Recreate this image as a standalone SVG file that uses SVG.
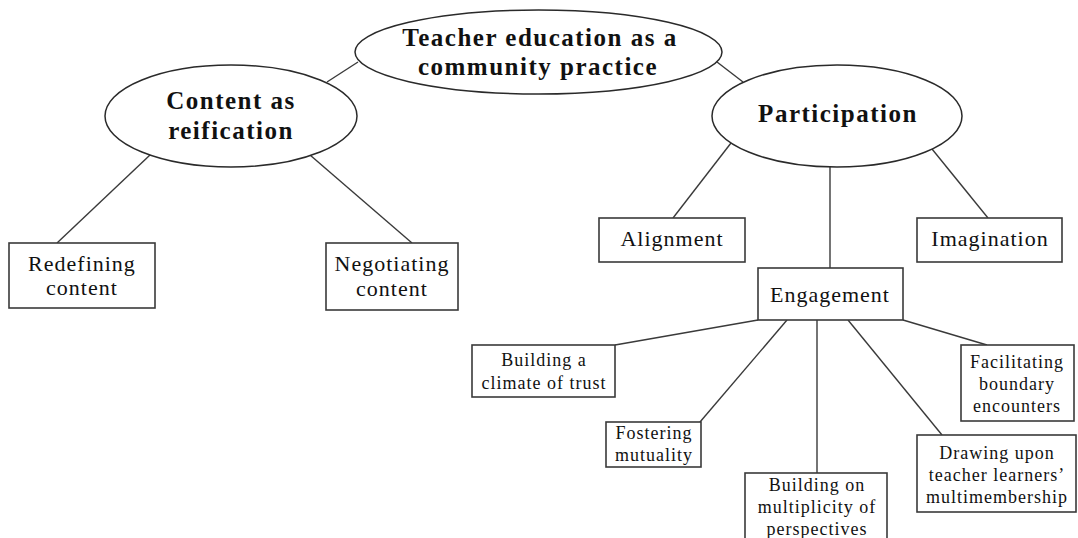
<svg xmlns="http://www.w3.org/2000/svg" width="1078" height="538" viewBox="0 0 1078 538">
<style>
.bg{fill:#ffffff}
.el{fill:#ffffff;stroke:#2a2a2a;stroke-width:1.5}
.bx{fill:#ffffff;stroke:#3a3a3a;stroke-width:1.6}
.ln{stroke:#3a3a3a;stroke-width:1.4;fill:none}
.h{font-family:"Liberation Serif",serif;font-weight:bold;font-size:25px;letter-spacing:1.5px;fill:#111;text-anchor:middle}
.m{font-family:"Liberation Serif",serif;font-size:22px;letter-spacing:1px;fill:#111;text-anchor:middle}
.s{font-family:"Liberation Serif",serif;font-size:18px;letter-spacing:1px;fill:#111;text-anchor:middle}
</style>
<rect class="bg" x="0" y="0" width="1078" height="538"/>
<g id="connectors">
<line class="ln" x1="358" y1="62" x2="327" y2="82"/>
<line class="ln" x1="717" y1="62" x2="743" y2="82"/>
<line class="ln" x1="150" y1="155" x2="57" y2="243"/>
<line class="ln" x1="310" y1="155" x2="412" y2="243"/>
<line class="ln" x1="731" y1="143" x2="673" y2="218"/>
<line class="ln" x1="932" y1="149" x2="988" y2="218"/>
<line class="ln" x1="830" y1="167" x2="830" y2="268"/>
<line class="ln" x1="758" y1="320" x2="615" y2="345"/>
<line class="ln" x1="787" y1="320" x2="700" y2="422"/>
<line class="ln" x1="817" y1="320" x2="817" y2="473"/>
<line class="ln" x1="848" y1="320" x2="942" y2="435"/>
<line class="ln" x1="903" y1="320" x2="987" y2="345"/>
</g>
<g id="root">
<ellipse class="el" cx="538.5" cy="52" rx="183.5" ry="42"/>
<text class="h" x="540" y="46">Teacher education as a</text>
<text class="h" x="538" y="75">community practice</text>
</g>
<g id="content">
<ellipse class="el" cx="231" cy="116" rx="126" ry="51"/>
<text class="h" x="231" y="109">Content as</text>
<text class="h" x="231" y="139">reification</text>
</g>
<g id="participation">
<ellipse class="el" cx="837" cy="116" rx="125" ry="51"/>
<text class="h" x="838" y="122">Participation</text>
</g>
<g id="redefining">
<rect class="bx" x="9" y="243" width="146" height="65"/>
<text class="m" x="82" y="271">Redefining</text>
<text class="m" x="82" y="295">content</text>
</g>
<g id="negotiating">
<rect class="bx" x="326" y="243" width="132" height="67"/>
<text class="m" x="392" y="271">Negotiating</text>
<text class="m" x="392" y="296">content</text>
</g>
<g id="alignment">
<rect class="bx" x="599" y="218" width="146" height="44"/>
<text class="m" x="672" y="246">Alignment</text>
</g>
<g id="imagination">
<rect class="bx" x="917" y="218" width="145" height="44"/>
<text class="m" x="990" y="246">Imagination</text>
</g>
<g id="engagement">
<rect class="bx" x="758" y="268" width="145" height="52"/>
<text class="m" x="830" y="302">Engagement</text>
</g>
<g id="climate">
<rect class="bx" x="472" y="345" width="143" height="52"/>
<text class="s" x="544" y="366">Building a</text>
<text class="s" x="544" y="389">climate of trust</text>
</g>
<g id="fostering">
<rect class="bx" x="606" y="422" width="95" height="45"/>
<text class="s" x="654" y="439">Fostering</text>
<text class="s" x="654" y="461">mutuality</text>
</g>
<g id="multiplicity">
<rect class="bx" x="745" y="473" width="142" height="70"/>
<text class="s" x="817" y="491">Building on</text>
<text class="s" x="817" y="513">multiplicity of</text>
<text class="s" x="817" y="535">perspectives</text>
</g>
<g id="drawing">
<rect class="bx" x="917" y="435" width="159" height="77"/>
<text class="s" x="997" y="459">Drawing upon</text>
<text class="s" x="997" y="481">teacher learners’</text>
<text class="s" x="997" y="503">multimembership</text>
</g>
<g id="facilitating">
<rect class="bx" x="961" y="345" width="113" height="76"/>
<text class="s" x="1017" y="368">Facilitating</text>
<text class="s" x="1017" y="390">boundary</text>
<text class="s" x="1017" y="412">encounters</text>
</g>
</svg>
